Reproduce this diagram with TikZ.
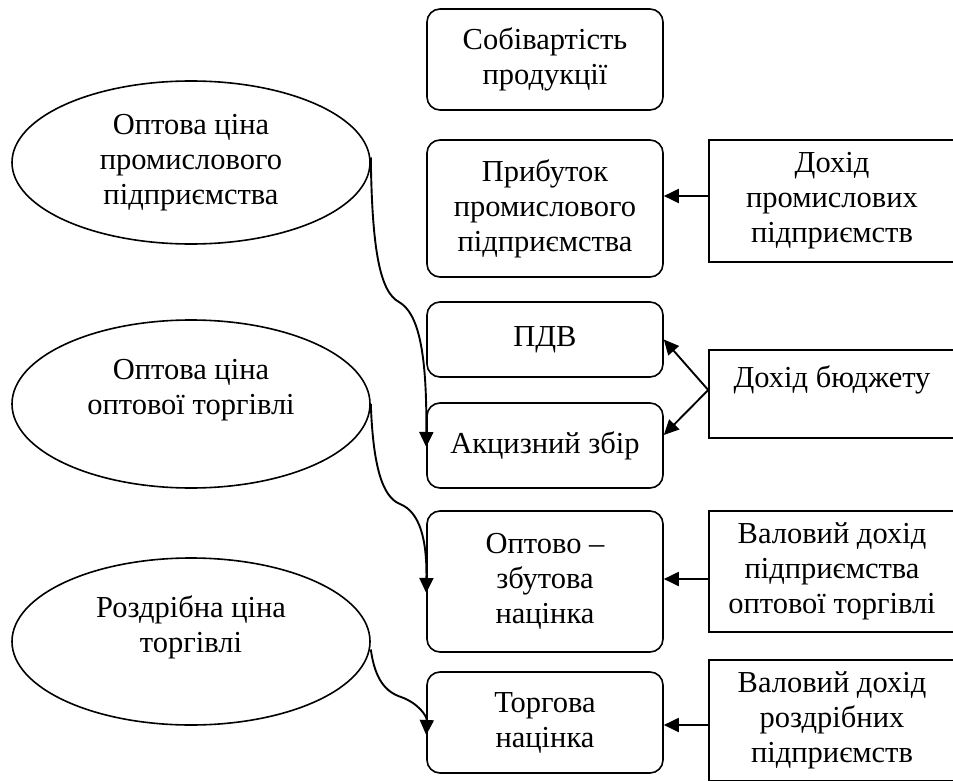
\documentclass[tikz,border=0pt]{standalone}
\usepackage{fontspec}
\setmainfont{Liberation Serif}
\usetikzlibrary{shapes.geometric,arrows.meta}
\begin{document}
\begin{tikzpicture}[x=1pt,y=-1pt,
  every node/.style={font=\fontsize{30.5}{35}\selectfont, align=center, inner sep=0pt},
  rbox/.style={draw, line width=1.6pt, rounded corners=13pt, minimum width=236pt},
  sbox/.style={draw, line width=1.6pt, minimum width=246pt},
  oval/.style={draw, ellipse, line width=1.6pt, minimum width=358pt},
  arr/.style={line width=1.9pt, -{Triangle[length=15pt,width=14pt]}}
]
\useasboundingbox (0,0) rectangle (953,781);

% middle rounded boxes
\node[rbox, minimum height=101pt] (sob) at (545,59.5) {Собівартість\\продукції};
\node[rbox, minimum height=137pt] (prib) at (545,208.5) {Прибуток\\промислового\\підприємства};
\node[rbox, minimum height=75pt] (pdv) at (545,339.5) {ПДВ};
\node[rbox, minimum height=85pt] (akc) at (545,445.5) {Акцизний збір};
\node[rbox, minimum height=141pt] (opt) at (545,581.5) {Оптово –\\збутова\\націнка};
\node[rbox, minimum height=101pt] (torg) at (545,722.5) {Торгова\\націнка};

% right boxes
\node[sbox, minimum height=122pt] (dp) at (832,201) {Дохід\\промислових\\підприємств};
\node[sbox, minimum height=88pt] (db) at (832,394) {Дохід бюджету\\\mbox{}};
\node[sbox, minimum height=121pt] (v1) at (832,571.5) {Валовий дохід\\підприємства\\оптової торгівлі};
\node[sbox, minimum height=121pt] (v2) at (832,720.5) {Валовий дохід\\роздрібних\\підприємств};

% ellipses
\node[oval, minimum height=163pt] (e1) at (191,162.5) {Оптова ціна\\промислового\\підприємства};
\node[oval, minimum height=168pt] (e2) at (191,404) {Оптова ціна\\оптової торгівлі\\\mbox{}};
\node[oval, minimum height=167pt] (e3) at (191,641.5) {Роздрібна ціна\\торгівлі\\\mbox{}};

% curved connectors
\coordinate (k1) at (399,302);
\coordinate (k2) at (400,504);
\coordinate (k3) at (401,697);
\draw[arr] ([yshift=5pt]e1.east) .. controls (372,250) and (380,292) .. (k1)
  .. controls (418,313) and (427,350) .. ([yshift=-1.5pt]akc.west);
\draw[arr] (e2.east) .. controls (373,465) and (382,497) .. (k2)
  .. controls (420,512) and (427,540) .. ([yshift=-11.5pt]opt.west);
\draw[arr] ([yshift=-8pt]e3.east) .. controls (375,680) and (386,692) .. (k3)
  .. controls (418,703) and (427,716) .. ([yshift=-12.5pt]torg.west);

% straight arrows
\draw[arr] ([yshift=5pt]dp.west) -- ([yshift=5pt]dp.west -| prib.east);
\draw[arr] ([yshift=4pt]db.west) -- (pdv.east);
\draw[arr] ([yshift=4pt]db.west) -- ([yshift=10.5pt]akc.east);
\draw[arr] ([yshift=-7.5pt]v1.west) -- ([yshift=-7.5pt]v1.west -| opt.east);
\draw[arr] ([yshift=-4.5pt]v2.west) -- ([yshift=-4.5pt]v2.west -| torg.east);
\end{tikzpicture}
\end{document}
